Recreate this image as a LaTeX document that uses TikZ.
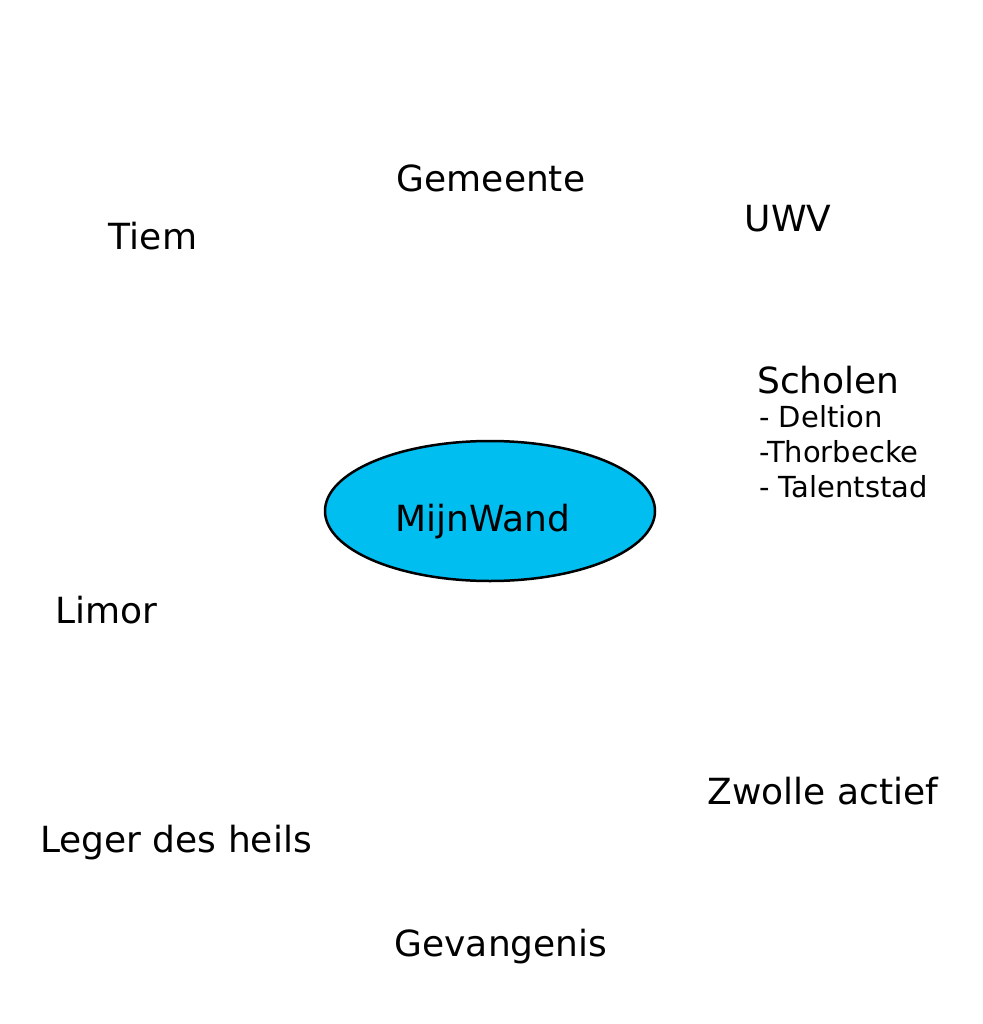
\documentclass[tikz,border=0pt]{standalone}
\usepackage{fontspec}
\setmainfont{DejaVu Sans}
\usetikzlibrary{shapes.geometric}
\begin{document}
\begin{tikzpicture}[x=1pt,y=-1pt,
        lbl/.style={inner sep=0pt,font=\fontsize{36}{40}\selectfont},
        sub/.style={inner sep=0pt,anchor=west,font=\fontsize{29}{32}\selectfont},
        hub/.style={ellipse,draw=black,line width=2.5pt,fill=wandblue,
            minimum width=330pt,minimum height=140pt,inner sep=0pt}]
\definecolor{wandblue}{HTML}{00BEF0}
\useasboundingbox (0,0) rectangle (982,1024);

\node[hub] (wand) at (490,511) {};
\node[lbl] (wandtxt) at (483,522) {MijnWand};

\node[lbl] (gemeente) at (491,178) {Gemeente};
\node[lbl] (tiem) at (153,236) {Tiem};
\node[lbl] (uwv) at (788,219) {UWV};

\node[lbl,anchor=west] (scholen) at (757,380) {Scholen};
\node[sub] (deltion) at (759,417) {- Deltion};
\node[sub] (thorbecke) at (759,452) {-Thorbecke};
\node[sub] (talentstad) at (759,487) {- Talentstad};

\node[lbl] (limor) at (106,610) {Limor};
\node[lbl] (zwolle) at (823,791) {Zwolle actief};
\node[lbl] (leger) at (176,843) {Leger des heils};
\node[lbl] (gevangenis) at (501,947) {Gevangenis};

\end{tikzpicture}
\end{document}
